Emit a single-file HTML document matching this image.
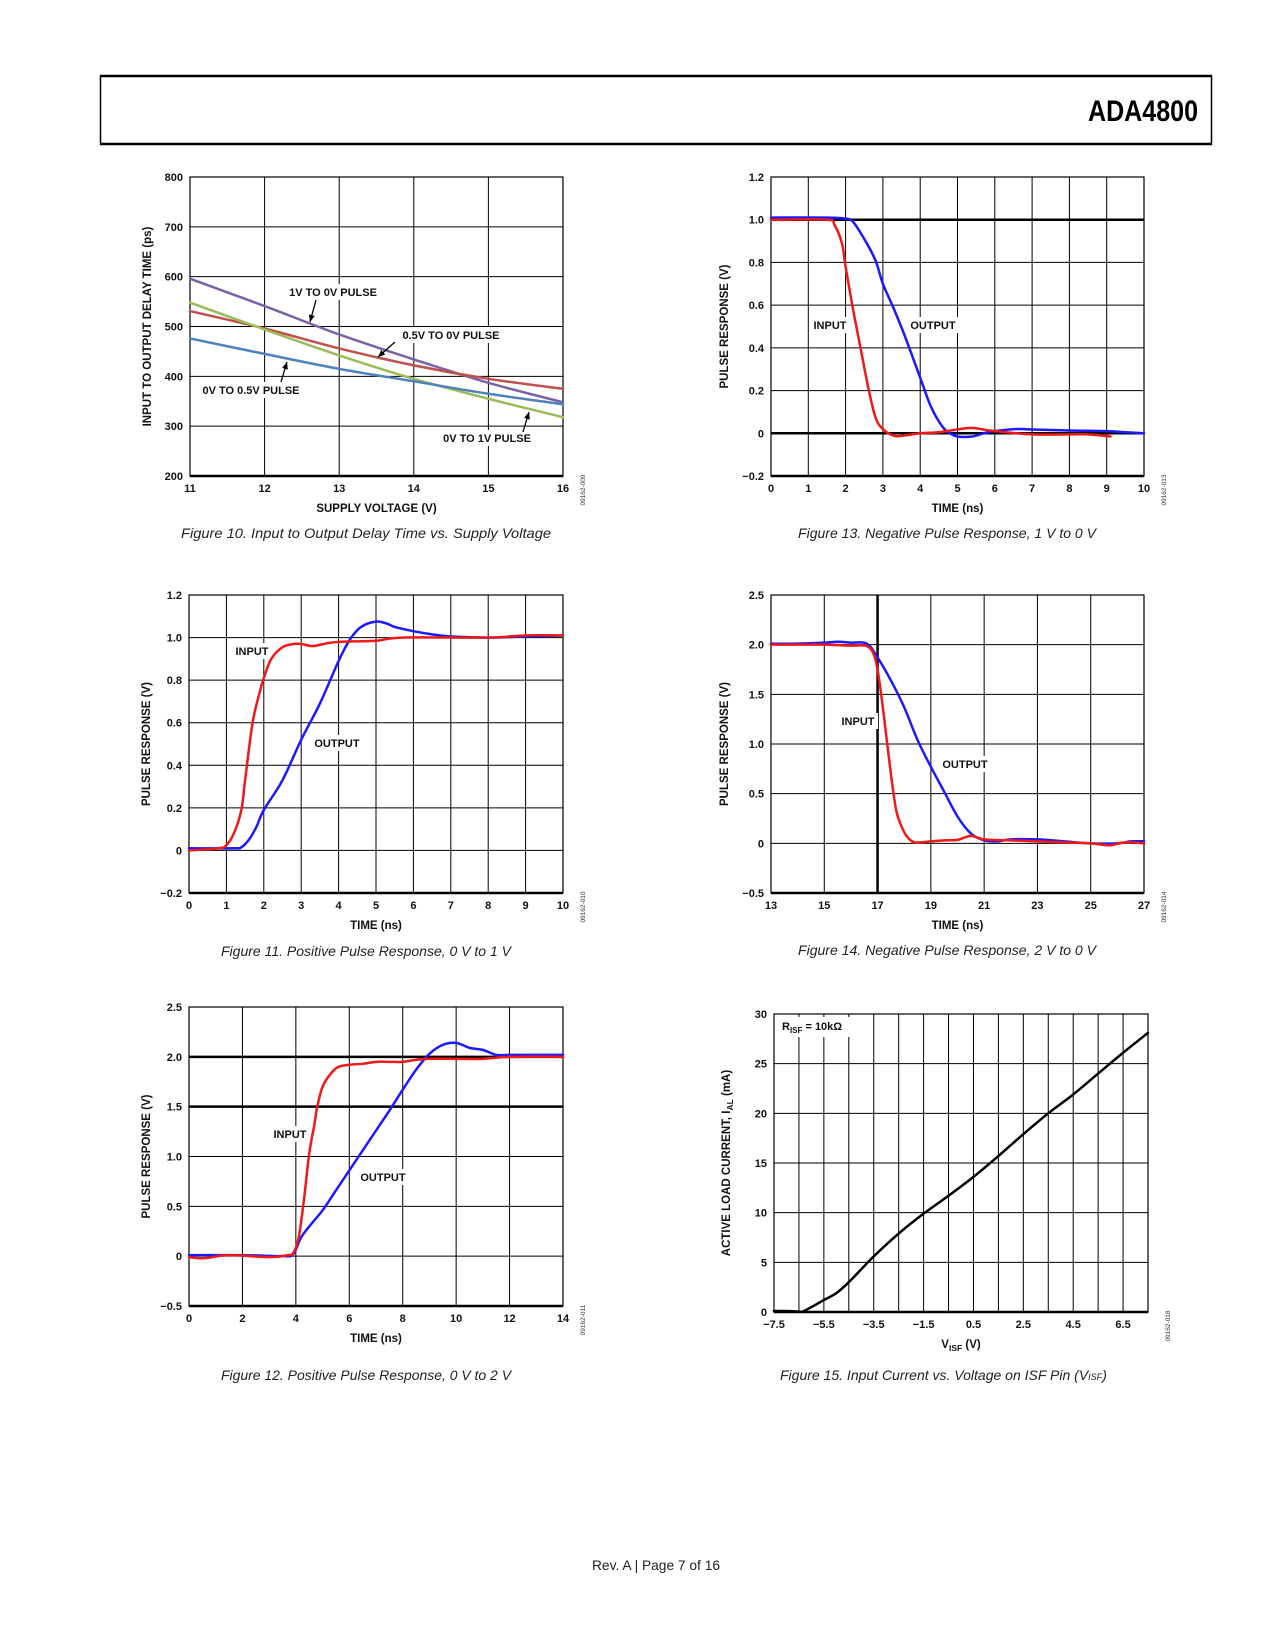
<!DOCTYPE html>
<html><head><meta charset="utf-8"><title>ADA4800 page 7</title>
<style>
html,body{margin:0;padding:0;background:#fff;}
svg{display:block;}
text{font-family:"Liberation Sans",sans-serif;}
.tick{font-size:11px;font-weight:bold;fill:#111;}
.ttl{font-size:11.5px;font-weight:bold;fill:#111;}
.lbl{font-size:11px;font-weight:bold;fill:#111;}
.cap{font-size:14px;font-style:italic;fill:#222;}
.code{font-size:6.5px;fill:#333;}
</style></head>
<body>
<svg id="page" width="1275" height="1650" viewBox="0 0 1275 1650" xmlns="http://www.w3.org/2000/svg">
<rect x="0" y="0" width="1275" height="1650" fill="#fff"/>
<g>
<line x1="100" y1="76" x2="1212" y2="76" stroke="#000" stroke-width="2.5"/>
<line x1="100" y1="144" x2="1212" y2="144" stroke="#000" stroke-width="2.5"/>
<line x1="100.5" y1="75" x2="100.5" y2="145" stroke="#000" stroke-width="1.5"/>
<line x1="1211.5" y1="75" x2="1211.5" y2="145" stroke="#000" stroke-width="1.5"/>
<text x="1088" y="121" font-size="30" font-weight="bold" textLength="110" lengthAdjust="spacingAndGlyphs">ADA4800</text>
</g>
<text x="592" y="1570" font-size="14" textLength="128" lengthAdjust="spacingAndGlyphs" fill="#222">Rev. A | Page 7 of 16</text>
</svg>
<script>
// ---------- Figure 10 data ----------
const f10X = [11, 12, 13, 14, 15, 16];
const f10Purple = [596, 541, 484, 434, 387, 348];
const f10Red = [531, 496, 456, 422, 395, 375];
const f10Green = [548, 494, 442, 395, 355, 318];
const f10Blue = [476, 445, 415, 390, 365, 344];
const f10XTicks = [11, 12, 13, 14, 15, 16];
const f10YTicks = [200, 300, 400, 500, 600, 700, 800];

// ---------- Figure 11 data ----------
const f11InT = [0, 0.8, 1.0, 1.2, 1.4, 1.5, 1.7, 1.9, 2.0, 2.2, 2.5, 2.8, 3.0, 3.3, 3.6, 4.0, 5.0, 5.7, 8.0, 9.0, 10.0];
const f11InV = [0.0, 0.01, 0.025, 0.08, 0.19, 0.33, 0.6, 0.75, 0.81, 0.9, 0.955, 0.97, 0.97, 0.96, 0.97, 0.98, 0.985, 1.0, 1.0, 1.01, 1.01];
const f11OutT = [0, 1.2, 1.4, 1.6, 1.8, 2.0, 2.5, 3.0, 3.5, 4.0, 4.3, 4.6, 5.0, 5.3, 5.5, 6.0, 6.5, 7.0, 8.0, 9.0, 10.0];
const f11OutV = [0.01, 0.01, 0.015, 0.05, 0.11, 0.19, 0.33, 0.52, 0.69, 0.89, 0.99, 1.05, 1.075, 1.065, 1.05, 1.03, 1.015, 1.005, 1.0, 1.005, 1.01];
const f11XTicks = [0, 1, 2, 3, 4, 5, 6, 7, 8, 9, 10];
const f11YTicks = [-0.2, 0, 0.2, 0.4, 0.6, 0.8, 1.0, 1.2];
const f11YLabels = ["\u22120.2", "0", "0.2", "0.4", "0.6", "0.8", "1.0", "1.2"];

// ---------- Figure 12 data ----------
const f12InT = [0, 0.6, 1.5, 3.0, 3.7, 3.9, 4.1, 4.3, 4.5, 4.7, 4.8, 5.0, 5.3, 5.6, 6.0, 6.5, 7.0, 7.5, 8.0, 8.5, 9.0, 10.0, 11.0, 12.0, 14.0];
const f12InV = [-0.01, -0.02, 0.01, -0.01, 0.01, 0.03, 0.18, 0.56, 1.03, 1.33, 1.5, 1.7, 1.83, 1.9, 1.92, 1.93, 1.95, 1.95, 1.95, 1.97, 1.98, 1.98, 1.98, 2.0, 2.0];
const f12OutT = [0, 2.0, 3.5, 3.9, 4.2, 4.6, 5.0, 5.5, 6.0, 6.5, 7.0, 7.5, 8.0, 8.5, 9.0, 9.5, 10.0, 10.5, 11.0, 11.5, 12.0, 13.0, 14.0];
const f12OutV = [0.01, 0.01, 0.0, 0.02, 0.19, 0.33, 0.46, 0.66, 0.86, 1.06, 1.26, 1.46, 1.67, 1.87, 2.03, 2.12, 2.14, 2.09, 2.07, 2.02, 2.02, 2.02, 2.02];
const f12XTicks = [0, 2, 4, 6, 8, 10, 12, 14];
const f12YTicks = [-0.5, 0, 0.5, 1.0, 1.5, 2.0, 2.5];
const f12YLabels = ["\u22120.5", "0", "0.5", "1.0", "1.5", "2.0", "2.5"];

// ---------- Figure 13 data ----------
const f13InT = [0, 1.5, 1.7, 1.9, 2.0, 2.2, 2.4, 2.6, 2.8, 3.0, 3.3, 3.6, 4.0, 4.5, 5.0, 5.4, 6.0, 7.0, 8.0, 8.5, 9.1];
const f13InV = [1.0, 1.0, 0.976, 0.89, 0.78, 0.58, 0.40, 0.22, 0.075, 0.02, -0.012, -0.01, 0.0, 0.005, 0.018, 0.025, 0.01, -0.005, -0.005, -0.005, -0.015];
const f13OutT = [0, 1.5, 2.0, 2.2, 2.5, 2.8, 3.0, 3.3, 3.6, 4.0, 4.3, 4.6, 4.8, 5.0, 5.4, 5.7, 6.0, 6.6, 7.0, 8.0, 9.0, 9.5, 10.0];
const f13OutV = [1.01, 1.01, 1.005, 0.99, 0.91, 0.81, 0.70, 0.58, 0.45, 0.26, 0.12, 0.03, 0.0, -0.015, -0.015, 0.0, 0.01, 0.02, 0.018, 0.013, 0.01, 0.005, 0.0];
const f13XTicks = [0, 1, 2, 3, 4, 5, 6, 7, 8, 9, 10];
const f13YTicks = [-0.2, 0, 0.2, 0.4, 0.6, 0.8, 1.0, 1.2];
const f13YLabels = ["\u22120.2", "0", "0.2", "0.4", "0.6", "0.8", "1.0", "1.2"];

// ---------- Figure 14 data ----------
const f14InT = [13, 14, 15, 16, 16.6, 16.9, 17.1, 17.3, 17.5, 17.7, 17.9, 18.1, 18.4, 19, 19.5, 20, 20.5, 21, 22, 23, 24, 25, 25.7, 26.3, 27];
const f14InV = [2.0, 2.0, 2.0, 1.99, 1.985, 1.87, 1.57, 1.14, 0.7, 0.33, 0.17, 0.07, 0.01, 0.02, 0.03, 0.035, 0.075, 0.04, 0.03, 0.02, 0.01, 0.0, -0.02, 0.01, 0.0];
const f14OutT = [13, 14, 15, 15.5, 16, 16.6, 17, 17.5, 18, 18.5, 19, 19.5, 20, 20.5, 21, 21.5, 22, 23, 24, 25, 26, 26.5, 27];
const f14OutV = [2.01, 2.01, 2.02, 2.03, 2.02, 2.01, 1.87, 1.64, 1.37, 1.04, 0.77, 0.52, 0.27, 0.1, 0.03, 0.02, 0.04, 0.04, 0.02, 0.0, 0.0, 0.02, 0.02];
const f14XTicks = [13, 15, 17, 19, 21, 23, 25, 27];
const f14YTicks = [-0.5, 0, 0.5, 1.0, 1.5, 2.0, 2.5];
const f14YLabels = ["\u22120.5", "0", "0.5", "1.0", "1.5", "2.0", "2.5"];

// ---------- Figure 15 data ----------
const f15V = [-7.5, -7.0, -6.5, -6.3, -5.5, -5.0, -4.5, -3.5, -2.5, -1.5, -0.5, 0.5, 1.5, 2.5, 3.5, 4.5, 5.5, 6.5, 7.5];
const f15I = [0.1, 0.1, 0.05, 0.1, 1.2, 1.9, 3.0, 5.6, 7.9, 9.9, 11.7, 13.6, 15.7, 17.9, 20.0, 21.9, 24.0, 26.1, 28.1];
const f15XTicks = [-7.5, -5.5, -3.5, -1.5, 0.5, 2.5, 4.5, 6.5];
const f15XLabels = ["\u22127.5", "\u22125.5", "\u22123.5", "\u22121.5", "0.5", "2.5", "4.5", "6.5"];
const f15YTicks = [0, 5, 10, 15, 20, 25, 30];

const NS = "http://www.w3.org/2000/svg";
const svg = document.getElementById('page');
function mk(tag, attrs, parent) {
  const e = document.createElementNS(NS, tag);
  for (const k in attrs) e.setAttribute(k, attrs[k]);
  (parent || svg).appendChild(e);
  return e;
}
function txt(parent, x, y, s, cls, anchor, extra) {
  const t = mk('text', Object.assign({x: x, y: y, class: cls, 'text-anchor': anchor || 'start'}, extra || {}), parent);
  t.textContent = s;
  return t;
}
function makeScale(d0, d1, r0, r1) { return v => r0 + (v - d0) / (d1 - d0) * (r1 - r0); }
function smoothPath(pts) {
  let d = 'M' + pts[0][0].toFixed(2) + ',' + pts[0][1].toFixed(2);
  for (let i = 0; i < pts.length - 1; i++) {
    const p0 = pts[Math.max(0, i - 1)], p1 = pts[i], p2 = pts[i + 1], p3 = pts[Math.min(pts.length - 1, i + 2)];
    const c1x = p1[0] + (p2[0] - p0[0]) / 6, c1y = p1[1] + (p2[1] - p0[1]) / 6;
    const c2x = p2[0] - (p3[0] - p1[0]) / 6, c2y = p2[1] - (p3[1] - p1[1]) / 6;
    d += 'C' + c1x.toFixed(2) + ',' + c1y.toFixed(2) + ' ' + c2x.toFixed(2) + ',' + c2y.toFixed(2) + ' ' + p2[0].toFixed(2) + ',' + p2[1].toFixed(2);
  }
  return d;
}

function chart(o) {
  const g = mk('g', {});
  
  
  const X = makeScale(o.xd[0], o.xd[1], o.L, o.R);
  const Y = makeScale(o.yd[0], o.yd[1], o.B, o.T);
  const grid = mk('g', {}, g);
  
  
  o.vgrid.forEach(v => {
    const x = X(v);
    const thick = (o.thickX || []).indexOf(v) >= 0;
    mk('line', {x1: x, y1: o.T, x2: x, y2: o.B, stroke: '#000', 'stroke-width': thick ? 2.5 : 1}, grid);
  });
  o.yTicks.forEach(v => {
    const y = Y(v);
    const thick = (o.thickY || []).indexOf(v) >= 0;
    mk('line', {x1: o.L, y1: y, x2: o.R, y2: y, stroke: '#000', 'stroke-width': thick ? 2.5 : 1}, grid);
  });
  (o.labels || []).forEach(l => {
    mk('rect', {x: l.x - l.w / 2, y: l.y - 12, width: l.w, height: 16, fill: '#fff'}, g);
  });
  mk('rect', {x: o.L, y: o.T, width: o.R - o.L, height: o.B - o.T, fill: 'none', stroke: '#000', 'stroke-width': 1.2}, g);
  mk('line', {x1: o.L, y1: o.B, x2: o.R, y2: o.B, stroke: '#000', 'stroke-width': 2.5}, g);
  o.series.forEach(s => {
    const pts = s.x.map((v, i) => [X(v), Y(s.y[i])]);
    const p = mk('path', {d: smoothPath(pts), fill: 'none', stroke: s.color, 'stroke-width': s.w || 2.5, 'stroke-linejoin': 'round', 'stroke-linecap': 'round'}, g);
    
    
  });
  const ax = mk('g', {}, g);
  
  
  o.xTicks.forEach((v, i) => txt(ax, X(v), o.B + 16, o.xLabels ? o.xLabels[i] : String(v), 'tick', 'middle'));
  const ay = mk('g', {}, g);
  
  
  o.yTicks.forEach((v, i) => txt(ay, o.L - 7, Y(v) + 4, o.yLabels ? o.yLabels[i] : String(v), 'tick', 'end'));
  const xt = txt(g, (o.L + o.R) / 2, o.B + 36, o.xTitle, 'ttl', 'middle');
  
  
  const yc = (o.T + o.B) / 2;
  const yt = txt(g, o.yTitleX, yc, o.yTitle, 'ttl', 'middle', {transform: 'rotate(-90 ' + o.yTitleX + ' ' + yc + ')'});
  
  
  (o.labels || []).forEach(l => {
    const t = txt(g, l.x, l.y, l.t, 'lbl', 'middle');
    
    
  });
  (o.arrows || []).forEach(a => {
    mk('line', {x1: a[0], y1: a[1], x2: a[2], y2: a[3], stroke: '#000', 'stroke-width': 1.3}, g);
    const ang = Math.atan2(a[3] - a[1], a[2] - a[0]);
    const s = 7, w = 3;
    const bx = a[2] - s * Math.cos(ang), by = a[3] - s * Math.sin(ang);
    const pts = [a[2], a[3], bx - w * Math.sin(ang), by + w * Math.cos(ang), bx + w * Math.sin(ang), by - w * Math.cos(ang)];
    mk('polygon', {points: pts.join(','), fill: '#000'}, g);
  });
  const cx = o.R + 22, cy = o.B + 14;
  txt(g, cx, cy, o.code, 'code', 'middle', {transform: 'rotate(-90 ' + cx + ' ' + cy + ')'});
  const c = txt(g, o.capX, o.capY, o.cap, 'cap', 'start', {textLength: o.capW, lengthAdjust: 'spacingAndGlyphs'});
  
  
  return g;
}

chart({name: 'figure-10-delay-vs-supply', L: 190, R: 563, T: 177, B: 476, xd: [11, 16], yd: [200, 800],
  vgrid: f10XTicks, xTicks: f10XTicks, yTicks: f10YTicks,
  series: [
    {name: 'series-1v-to-0v', x: f10X, y: f10Purple, color: '#7b62a8', w: 2.5},
    {name: 'series-0-5v-to-0v', x: f10X, y: f10Red, color: '#c0504d', w: 2.5},
    {name: 'series-0v-to-1v', x: f10X, y: f10Green, color: '#9bbb59', w: 2.5},
    {name: 'series-0v-to-0-5v', x: f10X, y: f10Blue, color: '#4f81bd', w: 2.5}],
  labels: [{x: 333, y: 296, t: '1V TO 0V PULSE', w: 102}, {x: 451, y: 339, t: '0.5V TO 0V PULSE', w: 114},
           {x: 251, y: 394, t: '0V TO 0.5V PULSE', w: 114}, {x: 487, y: 442, t: '0V TO 1V PULSE', w: 102}],
  arrows: [[316, 300, 310, 322], [395, 342, 378, 357], [281, 382, 287, 362], [523, 432, 529, 412]],
  xTitle: 'SUPPLY VOLTAGE (V)', yTitle: 'INPUT TO OUTPUT DELAY TIME (ps)', yTitleX: 151,
  code: '09162-009', cap: 'Figure 10. Input to Output Delay Time vs. Supply Voltage', capX: 181, capY: 538, capW: 370});

chart({name: 'figure-13-negative-pulse-1v', L: 771, R: 1144, T: 177, B: 476, xd: [0, 10], yd: [-0.2, 1.2],
  vgrid: f13XTicks, xTicks: f13XTicks, yTicks: f13YTicks, yLabels: f13YLabels, thickY: [0, 1.0],
  series: [
    {name: 'output-trace', x: f13OutT, y: f13OutV, color: '#1a1aff'},
    {name: 'input-trace', x: f13InT, y: f13InV, color: '#f01818'}],
  labels: [{x: 830, y: 329, t: 'INPUT', w: 40}, {x: 933, y: 329, t: 'OUTPUT', w: 54}],
  xTitle: 'TIME (ns)', yTitle: 'PULSE RESPONSE (V)', yTitleX: 728,
  code: '09162-013', cap: 'Figure 13. Negative Pulse Response, 1 V to 0 V', capX: 798, capY: 538, capW: 298});

chart({name: 'figure-11-positive-pulse-1v', L: 189, R: 563, T: 595, B: 893, xd: [0, 10], yd: [-0.2, 1.2],
  vgrid: f11XTicks, xTicks: f11XTicks, yTicks: f11YTicks, yLabels: f11YLabels,
  series: [
    {name: 'output-trace', x: f11OutT, y: f11OutV, color: '#1a1aff'},
    {name: 'input-trace', x: f11InT, y: f11InV, color: '#f01818'}],
  labels: [{x: 252, y: 655, t: 'INPUT', w: 40}, {x: 337, y: 747, t: 'OUTPUT', w: 54}],
  xTitle: 'TIME (ns)', yTitle: 'PULSE RESPONSE (V)', yTitleX: 150,
  code: '09162-010', cap: 'Figure 11. Positive Pulse Response, 0 V to 1 V', capX: 221, capY: 956, capW: 290});

chart({name: 'figure-14-negative-pulse-2v', L: 771, R: 1144, T: 595, B: 893, xd: [13, 27], yd: [-0.5, 2.5],
  vgrid: f14XTicks, xTicks: f14XTicks, yTicks: f14YTicks, yLabels: f14YLabels, thickX: [17],
  series: [
    {name: 'output-trace', x: f14OutT, y: f14OutV, color: '#1a1aff'},
    {name: 'input-trace', x: f14InT, y: f14InV, color: '#f01818'}],
  labels: [{x: 858, y: 725, t: 'INPUT', w: 40}, {x: 965, y: 768, t: 'OUTPUT', w: 54}],
  xTitle: 'TIME (ns)', yTitle: 'PULSE RESPONSE (V)', yTitleX: 728,
  code: '09162-014', cap: 'Figure 14. Negative Pulse Response, 2 V to 0 V', capX: 798, capY: 955, capW: 298});

chart({name: 'figure-12-positive-pulse-2v', L: 189, R: 563, T: 1007, B: 1306, xd: [0, 14], yd: [-0.5, 2.5],
  vgrid: f12XTicks, xTicks: f12XTicks, yTicks: f12YTicks, yLabels: f12YLabels, thickY: [1.5, 2.0],
  series: [
    {name: 'output-trace', x: f12OutT, y: f12OutV, color: '#1a1aff'},
    {name: 'input-trace', x: f12InT, y: f12InV, color: '#f01818'}],
  labels: [{x: 290, y: 1138, t: 'INPUT', w: 40}, {x: 383, y: 1181, t: 'OUTPUT', w: 54}],
  xTitle: 'TIME (ns)', yTitle: 'PULSE RESPONSE (V)', yTitleX: 150,
  code: '09162-011', cap: 'Figure 12. Positive Pulse Response, 0 V to 2 V', capX: 221, capY: 1380, capW: 290});

const f15Grid = [];
for (let v = -6.5; v <= 6.5; v += 1) f15Grid.push(v);
const g15 = chart({name: 'figure-15-current-vs-visf', L: 774, R: 1148, T: 1014, B: 1312, xd: [-7.5, 7.5], yd: [0, 30],
  vgrid: f15Grid, xTicks: f15XTicks, xLabels: f15XLabels, yTicks: f15YTicks,
  series: [{name: 'current-curve', x: f15V, y: f15I, color: '#000', w: 2.5}],
  labels: [],
  xTitle: '', yTitle: '', yTitleX: 730,
  code: '09162-018', cap: '', capX: 780, capY: 1380, capW: 10});
mk('rect', {x: 777, y: 1017, width: 80, height: 20, fill: '#fff'}, g15);
const r = mk('text', {x: 782, y: 1030, class: 'lbl'}, g15);


r.innerHTML = 'R<tspan font-size="8" dy="3">ISF</tspan><tspan dy="-3"> = 10k\u03A9</tspan>';
const xt15 = mk('text', {x: 961, y: 1348, class: 'ttl', 'text-anchor': 'middle'}, g15);


xt15.innerHTML = 'V<tspan font-size="8.5" dy="3">ISF</tspan><tspan dy="-3"> (V)</tspan>';
const yt15 = mk('text', {x: 730, y: 1163, class: 'ttl', 'text-anchor': 'middle', transform: 'rotate(-90 730 1163)'}, g15);


yt15.innerHTML = 'ACTIVE LOAD CURRENT, I<tspan font-size="8.5" dy="3">AL</tspan><tspan dy="-3"> (mA)</tspan>';
const cap15 = mk('text', {x: 780, y: 1380, class: 'cap'}, g15);


cap15.innerHTML = 'Figure 15. Input Current vs. Voltage on ISF Pin (V<tspan font-size="9">ISF</tspan>)';
</script>
</body></html>
